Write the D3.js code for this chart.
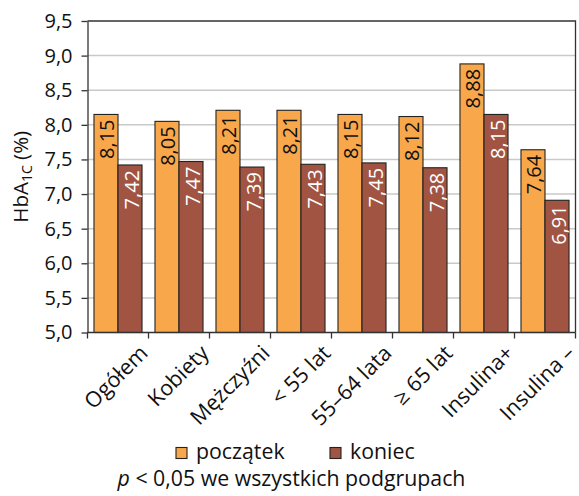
<!DOCTYPE html>
<html>
<head>
<meta charset="utf-8">
<script src="https://cdn.jsdelivr.net/npm/d3@7"></script>
<style>
  html, body { margin: 0; padding: 0; background: #fff; }
  svg { display: block; font-family: "Open Sans", "Noto Sans", sans-serif; }
</style>
</head>
<body>
<svg id="chart" width="579" height="496"></svg>
<script>
// Subgroups of patients
const categories = ["Ogółem", "Kobiety", "Mężczyźni", "< 55 lat", "55–64 lata", "≥ 65 lat", "Insulina+", "Insulina –"];
// HbA1c at the start and at the end of the observation
const seriesNames = ["początek", "koniec"];
const startValues = [8.15, 8.05, 8.21, 8.21, 8.15, 8.12, 8.88, 7.64];
const endValues = [7.42, 7.47, 7.39, 7.43, 7.45, 7.38, 8.15, 6.91];
const yTicks = [5.0, 5.5, 6.0, 6.5, 7.0, 7.5, 8.0, 8.5, 9.0, 9.5];
const footnote = "p < 0,05 we wszystkich podgrupach";

const colors = { "początek": "#F9A74B", "koniec": "#A25443" };
const labelColors = { "początek": "#111", "koniec": "#fff" };

const plLocale = d3.formatLocale({ decimal: ",", thousands: " ", grouping: [3], currency: ["", " zł"] });
const fmt1 = plLocale.format(".1f");
const fmt2 = plLocale.format(".2f");

const svg = d3.select("#chart");
const plotLeft = 87.5, plotRight = 575.5, plotTop = 21, plotBottom = 332.5;

const x = d3.scaleBand().domain(categories).range([plotLeft, plotRight]).paddingInner(0).paddingOuter(0);
const xSub = d3.scaleBand().domain(seriesNames).range([0, x.bandwidth()]).paddingInner(0).paddingOuter(0.27);
const y = d3.scaleLinear().domain([5.0, 9.5]).range([plotBottom, plotTop]);

// Horizontal gridlines
svg.append("g")
  .selectAll("line")
  .data(yTicks.filter(t => t > 5.0 && t < 9.5))
  .join("line")
  .attr("x1", plotLeft).attr("x2", plotRight)
  .attr("y1", d => y(d)).attr("y2", d => y(d))
  .attr("stroke", "#c9c9c9").attr("stroke-width", 1.5);

// Frame: top and right edges
svg.append("path")
  .attr("d", `M${plotLeft},${y(9.5)}H${plotRight}V${plotBottom}`)
  .attr("fill", "none").attr("stroke", "#333").attr("stroke-width", 1.3);

// Bars
const rows = categories.map((c, i) => ({ cat: c, values: [
  { key: "początek", value: startValues[i] },
  { key: "koniec", value: endValues[i] }
]}));

const groups = svg.append("g").selectAll("g")
  .data(rows).join("g")
  .attr("transform", d => `translate(${x(d.cat)},0)`);

groups.selectAll("rect")
  .data(d => d.values).join("rect")
  .attr("x", d => xSub(d.key))
  .attr("y", d => y(d.value))
  .attr("width", xSub.bandwidth())
  .attr("height", d => y(5.0) - y(d.value))
  .attr("fill", d => colors[d.key])
  .attr("stroke", "#222").attr("stroke-width", 1.1);

// Value labels inside the bars, rotated
groups.selectAll("text")
  .data(d => d.values).join("text")
  .attr("transform", d => `translate(${xSub(d.key) + xSub.bandwidth() / 2 + 1},${y(d.value) + 5}) rotate(-90)`)
  .attr("text-anchor", "end")
  .attr("dominant-baseline", "central")
  .attr("font-size", 20)
  .attr("fill", d => labelColors[d.key])
  .text(d => fmt2(d.value));

// Y axis
const yAxis = d3.axisLeft(y).tickValues(yTicks).tickSize(6).tickSizeOuter(0).tickFormat(fmt1);
const gy = svg.append("g").attr("transform", `translate(${plotLeft},0)`).call(yAxis);
gy.attr("font-family", null).attr("font-size", null);
gy.select(".domain").attr("stroke", "#333").attr("stroke-width", 1.3);
gy.selectAll(".tick line").attr("stroke", "#333").attr("stroke-width", 1.3);
gy.selectAll(".tick text").attr("font-size", 20).attr("fill", "#111").attr("x", -15);

// X axis: baseline and ticks at group boundaries
const boundaries = categories.map(c => x(c)).concat([plotRight]);
svg.append("line")
  .attr("x1", plotLeft).attr("x2", plotRight).attr("y1", plotBottom).attr("y2", plotBottom)
  .attr("stroke", "#333").attr("stroke-width", 1.3);
svg.append("g").selectAll("line")
  .data(boundaries).join("line")
  .attr("x1", d => d).attr("x2", d => d)
  .attr("y1", plotBottom).attr("y2", plotBottom + 6)
  .attr("stroke", "#333").attr("stroke-width", 1.3);

// Category labels, slanted
svg.append("g").selectAll("text")
  .data(categories).join("text")
  .attr("transform", d => `translate(${x(d) + x.bandwidth() / 2 + 31},${plotBottom + 22}) rotate(-45)`)
  .attr("text-anchor", "end")
  .attr("font-size", 21.5)
  .attr("fill", "#111")
  .text(d => d);

// Y axis title
const title = svg.append("text")
  .attr("transform", `translate(28,${(plotTop + plotBottom) / 2}) rotate(-90)`)
  .attr("text-anchor", "middle")
  .attr("font-size", 20.5)
  .attr("fill", "#111");
title.append("tspan").text("HbA");
title.append("tspan").attr("font-size", 14).attr("dy", 4).text("1C");
title.append("tspan").attr("dy", -4).text(" (%)");

// Legend
const legend = svg.append("g");
const legendItems = [
  { key: "początek", x: 176 },
  { key: "koniec", x: 330 }
];
legendItems.forEach(it => {
  legend.append("rect")
    .attr("x", it.x).attr("y", 447.5).attr("width", 11).attr("height", 11)
    .attr("fill", colors[it.key]).attr("stroke", "#222").attr("stroke-width", 1.1);
  legend.append("text")
    .attr("x", it.x + 20).attr("y", 459)
    .attr("font-size", 21.3).attr("fill", "#111")
    .text(it.key);
});

// Footnote
const fn = svg.append("text")
  .attr("x", 291.5).attr("y", 486)
  .attr("text-anchor", "middle")
  .attr("font-size", 21.3).attr("fill", "#111");
fn.append("tspan").attr("font-style", "italic").text(footnote.slice(0, 1));
fn.append("tspan").text(footnote.slice(1));
</script>
</body>
</html>
